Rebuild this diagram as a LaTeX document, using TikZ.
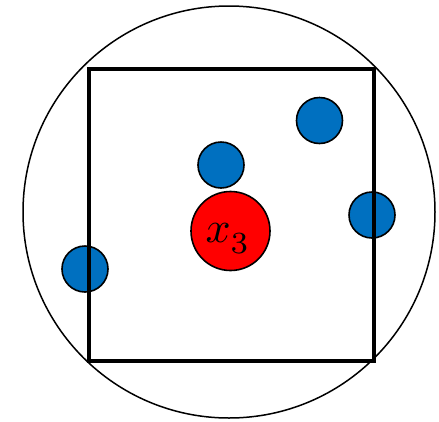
\documentclass[tikz,border=0pt]{standalone}
\definecolor{pblue}{HTML}{0070C0}
\definecolor{pred}{HTML}{FF0000}
\begin{document}
\begin{tikzpicture}[x=1pt,y=-1pt,
  dot/.style={circle,draw=black,line width=1.6pt,fill=pblue,minimum size=46pt,inner sep=0pt},
  bigdot/.style={circle,draw=black,line width=1.6pt,fill=pred,minimum size=79pt,inner sep=0pt}]
\useasboundingbox (0,0) rectangle (439,421);
\draw[line width=1.5pt] (229,212) circle (206);
\node[dot] (b1) at (319.5,120.5) {};
\node[dot] (b2) at (221,165) {};
\node[bigdot] (r) at (230.5,231) {};
\node (lab) at (228,239) {\scalebox{4.4}{$x_{\raisebox{-1pt}{$\scriptstyle 3$}}$}};
\node[dot] (b3) at (372,215) {};
\node[dot] (b4) at (85,269) {};
\draw[line width=3.8pt] (89,69) rectangle (374,361);
\end{tikzpicture}
\end{document}
